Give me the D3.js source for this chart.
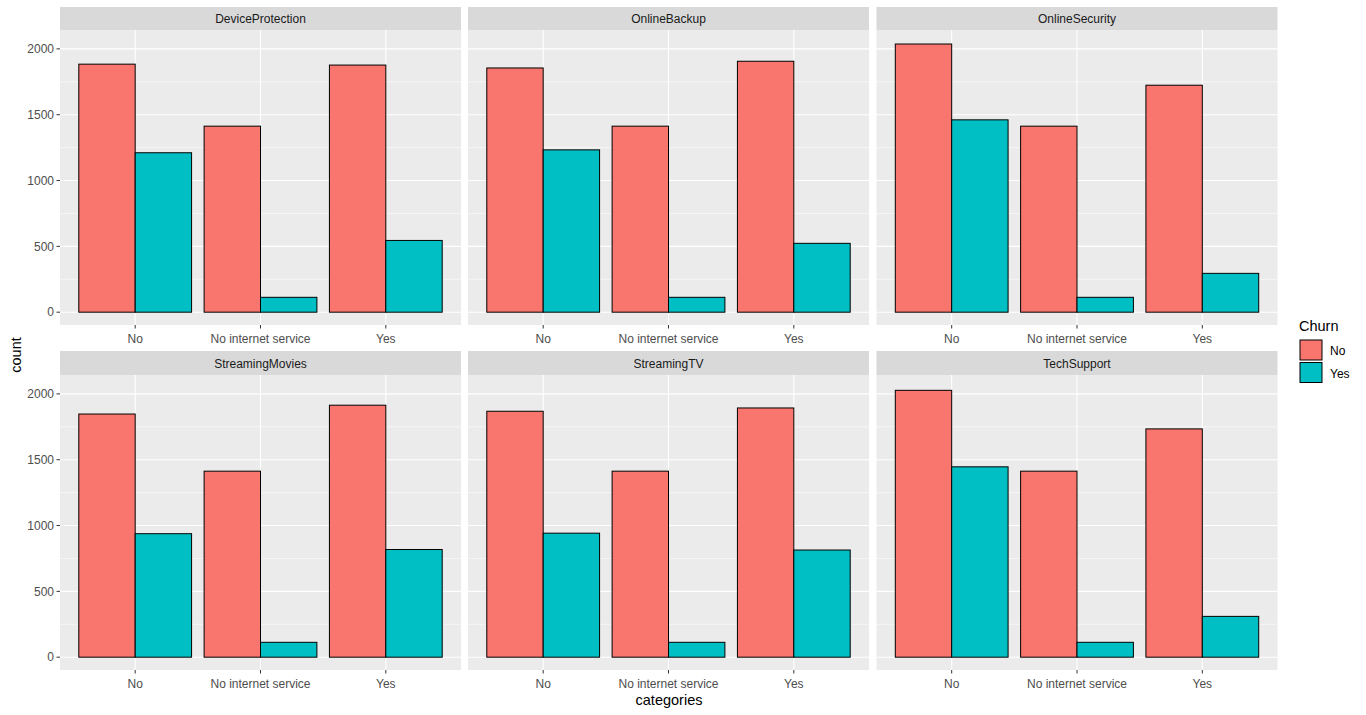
<!DOCTYPE html>
<html><head><meta charset="utf-8">
<script src="https://cdn.jsdelivr.net/npm/d3@7"></script>
<style>body{margin:0;background:#fff;} text{font-family:"Liberation Sans",Arial,sans-serif;}</style>
</head><body><svg id="c" width="1366" height="715"></svg>
<script>
const facets = ["DeviceProtection","OnlineBackup","OnlineSecurity","StreamingMovies","StreamingTV","TechSupport"];
const categories = ["No","No internet service","Yes"];
const churn = ["No","Yes"];
const colors = ["#F8766D","#00BFC4"];
const yTicks = [0,500,1000,1500,2000];
// counts per facet: [category][churn]
const DeviceProtection = [[1884,1211],[1413,113],[1877,545]];
const OnlineBackup = [[1855,1233],[1413,113],[1906,523]];
const OnlineSecurity = [[2037,1461],[1413,113],[1724,295]];
const StreamingMovies = [[1847,938],[1413,113],[1914,818]];
const StreamingTV = [[1868,942],[1413,113],[1893,814]];
const TechSupport = [[2027,1446],[1413,113],[1734,310]];
const dataMap = {DeviceProtection,OnlineBackup,OnlineSecurity,StreamingMovies,StreamingTV,TechSupport};

const svg = d3.select("#c");
const panelX = [60, 468, 876.5];
const panelW = 401;
const rows = [{strip:7, top:30, bottom:325},{strip:351, top:375, bottom:670}];
const maxV = d3.max(facets, f => d3.max(dataMap[f], d => d3.max(d)));
const pad = maxV*0.05;

facets.forEach((f,i) => {
  const col = i%3, r = rows[Math.floor(i/3)];
  const x0 = panelX[col];
  const g = svg.append("g");
  // strip
  g.append("rect").attr("x",x0).attr("y",r.strip).attr("width",panelW).attr("height",r.top-r.strip).attr("fill","#D9D9D9");
  g.append("text").attr("x",x0+panelW/2).attr("y",(r.strip+r.top)/2+4.5).attr("text-anchor","middle")
    .attr("font-size",12).attr("fill","#1A1A1A").text(f);
  // panel
  g.append("rect").attr("x",x0).attr("y",r.top).attr("width",panelW).attr("height",r.bottom-r.top).attr("fill","#EBEBEB");
  const y = d3.scaleLinear().domain([-pad, maxV+pad]).range([r.bottom+0.6, r.top+0.6]);
  const xc = d3.scalePoint().domain(categories).range([x0+panelW*0.6/3.2, x0+panelW*2.6/3.2]);
  const unit = panelW/3.2;
  // minor grid
  const minor = [250,750,1250,1750];
  minor.forEach(v => g.append("line").attr("x1",x0).attr("x2",x0+panelW).attr("y1",y(v)).attr("y2",y(v)).attr("stroke","#fff").attr("stroke-width",0.55));
  yTicks.forEach(v => g.append("line").attr("x1",x0).attr("x2",x0+panelW).attr("y1",y(v)).attr("y2",y(v)).attr("stroke","#fff").attr("stroke-width",1.1));
  categories.forEach(c => g.append("line").attr("x1",xc(c)).attr("x2",xc(c)).attr("y1",r.top).attr("y2",r.bottom).attr("stroke","#fff").attr("stroke-width",1.1));
  // bars
  const xs = d3.scaleBand().domain(churn).range([-0.45*unit, 0.45*unit]).padding(0);
  dataMap[f].forEach((vals, ci) => {
    vals.forEach((v, k) => {
      g.append("rect").attr("x", xc(categories[ci]) + xs(churn[k])).attr("y", y(v))
        .attr("width", xs.bandwidth()).attr("height", y(0)-y(v))
        .attr("fill", colors[k]).attr("stroke","#000").attr("stroke-width",1);
    });
  });
  // x axis
  categories.forEach(c => {
    g.append("line").attr("x1",xc(c)).attr("x2",xc(c)).attr("y1",r.bottom).attr("y2",r.bottom+3.5).attr("stroke","#333").attr("stroke-width",1);
    g.append("text").attr("x",xc(c)).attr("y",r.bottom+17.5).attr("text-anchor","middle").attr("font-size",12).attr("fill","#4D4D4D").text(c);
  });
  // y axis
  if (col===0) {
    yTicks.forEach(v => {
      g.append("line").attr("x1",x0-3.5).attr("x2",x0).attr("y1",y(v)).attr("y2",y(v)).attr("stroke","#333").attr("stroke-width",1);
      g.append("text").attr("x",x0-6).attr("y",y(v)+4.2).attr("text-anchor","end").attr("font-size",12).attr("fill","#4D4D4D").text(v);
    });
  }
});
// axis titles
svg.append("text").attr("x",669).attr("y",705).attr("text-anchor","middle").attr("font-size",14.5).attr("fill","#000").text("categories");
svg.append("text").attr("transform","translate(21,355) rotate(-90)").attr("text-anchor","middle").attr("font-size",14.5).attr("fill","#000").text("count");
// legend
svg.append("text").attr("x",1299).attr("y",331).attr("font-size",14.5).attr("fill","#000").text("Churn");
churn.forEach((c,k) => {
  svg.append("rect").attr("x",1300).attr("y",340+k*22.5).attr("width",22).attr("height",20).attr("fill",colors[k]).attr("stroke","#000").attr("stroke-width",1);
  svg.append("text").attr("x",1330).attr("y",355+k*22.5).attr("font-size",12).attr("fill","#000").text(c);
});
</script></body></html>
